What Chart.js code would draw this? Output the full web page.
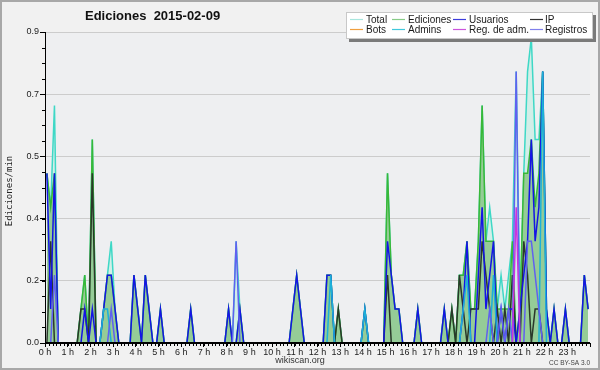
<!DOCTYPE html>
<html>
<head>
<meta charset="utf-8">
<script src="https://cdn.jsdelivr.net/npm/chart.js@4/dist/chart.umd.min.js"></script>
<style>
html,body{margin:0;padding:0;background:#f1f1f1;}
#wrap{width:600px;height:370px;position:relative;}
</style>
</head>
<body>
<div id="wrap"><canvas id="c" width="600" height="370"></canvas></div>
<script>
// ---- DATA (10-minute bins, 6 per hour, one row per hour) ----
const chartTitle = 'Ediciones  2015-02-09';
const yAxisTitle = 'Ediciones/min';
const seriesNames = ['Total','Ediciones','Usuarios','IP','Bots','Admins','Reg. de adm.','Registros'];
const xTickValues = [0,1,2,3,4,5,6,7,8,9,10,11,12,13,14,15,16,17,18,19,20,21,22,23,24];
const xTickLabels = ['0 h','1 h','2 h','3 h','4 h','5 h','6 h','7 h','8 h','9 h','10 h','11 h','12 h','13 h','14 h','15 h','16 h','17 h','18 h','19 h','20 h','21 h','22 h','23 h',''];
const yTickValues = [0, 11/60, 22/60, 33/60, 44/60, 55/60];
const yTickLabels = ['0.0','0.2','0.4','0.5','0.7','0.9'];

const total = [
0.5,0.4,0.7,0,0,0,
0,0,0,0.1,0.2,0,
0.6,0,0,0.1,0.2,0.3,
0.1,0,0,0,0,0.2,
0.1,0,0.2,0.1,0,0,
0.1,0,0,0,0,0,
0,0,0.1,0,0,0,
0,0,0,0,0,0,
0.1,0,0.3,0.1,0,0,
0,0,0,0,0,0,
0,0,0,0,0,0.1,
0.2,0.1,0,0,0,0,
0,0,0.2,0.2,0,0.1,
0,0,0,0,0,0,
0.1,0,0,0,0,0,
0.5,0.2,0.1,0.1,0,0,
0,0,0.1,0,0,0,
0,0,0,0.1,0,0.1,
0,0.2,0.2,0.3,0.1,0.1,
0.3,0.7,0.3,0.4,0.3,0.1,
0.2,0.1,0.2,0.3,0.8,0.1,
0.5,0.8,0.9,0.6,0.6,0.8,
0.1,0,0.1,0,0,0.1,
0,0,0,0,0.2,0.1];

const ediciones = [
0.5,0.4,0.5,0,0,0,
0,0,0,0.1,0.2,0,
0.6,0,0,0.1,0.2,0.2,
0.1,0,0,0,0,0.2,
0.1,0,0.2,0.1,0,0,
0.1,0,0,0,0,0,
0,0,0.1,0,0,0,
0,0,0,0,0,0,
0.1,0,0,0.1,0,0,
0,0,0,0,0,0,
0,0,0,0,0,0.1,
0.2,0.1,0,0,0,0,
0,0,0.2,0.2,0,0.1,
0,0,0,0,0,0,
0.1,0,0,0,0,0,
0.5,0.2,0.1,0.1,0,0,
0,0,0.1,0,0,0,
0,0,0,0.1,0,0.1,
0,0.2,0.2,0.3,0.1,0.1,
0.3,0.7,0.3,0.3,0.3,0.1,
0.1,0.1,0.1,0.3,0,0.1,
0.5,0.5,0.6,0.4,0.5,0.8,
0.1,0,0.1,0,0,0.1,
0,0,0,0,0.2,0.1];

const usuarios = [
0.5,0.1,0.5,0,0,0,
0,0,0,0,0.1,0,
0.1,0,0,0.1,0.2,0.2,
0.1,0,0,0,0,0.2,
0.1,0,0.2,0.1,0,0,
0.1,0,0,0,0,0,
0,0,0.1,0,0,0,
0,0,0,0,0,0,
0.1,0,0,0.1,0,0,
0,0,0,0,0,0,
0,0,0,0,0,0.1,
0.2,0.1,0,0,0,0,
0,0,0.2,0.2,0,0,
0,0,0,0,0,0,
0.1,0,0,0,0,0,
0.3,0.2,0.1,0.1,0,0,
0,0,0.1,0,0,0,
0,0,0,0.1,0,0,
0,0,0.1,0.3,0,0,
0.2,0.4,0.1,0.2,0.3,0,
0.1,0,0.1,0.1,0,0.1,
0.2,0.3,0.6,0.3,0.4,0.8,
0.1,0,0.1,0,0,0.1,
0,0,0,0,0.2,0.1];

const ip = [
0,0.3,0,0,0,0,
0,0,0,0.1,0.1,0,
0.5,0,0,0,0,0,
0,0,0,0,0,0,
0,0,0,0,0,0,
0,0,0,0,0,0,
0,0,0,0,0,0,
0,0,0,0,0,0,
0,0,0,0,0,0,
0,0,0,0,0,0,
0,0,0,0,0,0,
0,0,0,0,0,0,
0,0,0,0,0,0.1,
0,0,0,0,0,0,
0,0,0,0,0,0,
0.2,0,0,0,0,0,
0,0,0,0,0,0,
0,0,0,0,0,0.1,
0,0.2,0.1,0,0.1,0.1,
0.1,0.3,0.2,0.1,0,0.1,
0,0.1,0,0.2,0,0,
0.3,0.2,0,0.1,0.1,0,
0,0,0,0,0,0,
0,0,0,0,0,0];

const bots = [
0,0,0,0,0,0, 0,0,0,0,0,0, 0,0,0,0,0,0, 0,0,0,0,0,0,
0,0,0,0,0,0, 0,0,0,0,0,0, 0,0,0,0,0,0, 0,0,0,0,0,0,
0,0,0,0,0,0, 0,0,0,0,0,0, 0,0,0,0,0,0, 0,0,0,0,0,0,
0,0,0,0,0,0, 0,0,0,0,0,0, 0,0,0,0,0,0, 0,0,0,0,0,0,
0,0,0,0,0,0, 0,0,0,0,0,0, 0,0,0,0,0,0, 0,0,0,0,0,0,
0,0,0,0,0,0, 0,0,0,0,0,0, 0,0,0,0,0,0, 0,0,0,0,0,0];

const admins = [
0,0,0,0,0,0, 0,0,0,0,0,0, 0,0,0,0.1,0.1,0, 0,0,0,0,0,0,
0,0,0,0,0,0, 0,0,0,0,0,0, 0,0,0,0,0,0, 0,0,0,0,0,0,
0,0,0,0,0,0, 0,0,0,0,0,0, 0,0,0,0,0,0, 0,0,0,0,0,0,
0,0,0,0.2,0,0, 0,0,0,0,0,0, 0.1,0,0,0,0,0, 0,0,0,0,0,0,
0,0,0,0,0,0, 0,0,0,0,0,0, 0,0,0.1,0.2,0,0, 0,0,0,0,0.2,0,
0,0,0,0,0,0, 0,0,0,0,0,0.8, 0,0,0,0,0,0, 0,0,0,0,0,0];

const regAdm = [
0,0,0,0,0,0, 0,0,0,0,0,0, 0,0,0,0,0,0, 0,0,0,0,0,0,
0,0,0,0,0,0, 0,0,0,0,0,0, 0,0,0,0,0,0, 0,0,0,0,0,0,
0,0,0,0,0,0, 0,0,0,0,0,0, 0,0,0,0,0,0, 0,0,0,0,0,0,
0,0,0,0,0,0, 0,0,0,0,0,0, 0,0,0,0,0,0, 0,0,0,0,0,0,
0,0,0,0,0,0, 0,0,0,0,0,0, 0,0,0,0,0,0, 0,0,0,0,0,0,
0,0,0,0,0.4,0, 0,0,0,0,0,0, 0,0,0,0,0,0, 0,0,0,0,0,0];

const registros = [
0,0,0.2,0,0,0, 0,0,0,0,0,0, 0,0,0,0,0,0.1, 0,0,0,0,0,0,
0,0,0,0,0,0, 0,0,0,0,0,0, 0,0,0,0,0,0, 0,0,0,0,0,0,
0,0,0.3,0,0,0, 0,0,0,0,0,0, 0,0,0,0,0,0, 0,0,0,0,0,0,
0,0,0,0,0,0, 0,0,0,0,0,0, 0,0,0,0,0,0, 0,0,0,0,0,0,
0,0,0,0,0,0, 0,0,0,0,0,0, 0,0,0,0,0,0, 0,0,0,0.1,0,0,
0.1,0,0.1,0,0.8,0, 0,0.3,0.3,0.2,0.1,0, 0,0,0,0,0,0, 0,0,0,0,0,0];

// ---- build ----
const binsPerHour = 6;
const pts = arr => arr.map((v, i) => ({x: (i + 0.5) / binsPerHour, y: v}));

function ds(idx, values, color, legendColor, order, fillColor) {
  return {
    label: seriesNames[idx],
    data: pts(values),
    borderColor: color,
    legendColor: legendColor,
    backgroundColor: fillColor || color,
    fill: fillColor ? 'origin' : false,
    borderWidth: 1.5,
    pointRadius: 0,
    tension: 0,
    order: order
  };
}

const datasets = [
  ds(0, total, '#3ed8c6', '#a8e6de', 8, '#d2eee8'),
  ds(1, ediciones, '#38b838', '#88cc88', 7, '#95cc97'),
  ds(2, usuarios, '#1414e6', '#3c3cdc', 4),
  ds(3, ip, '#2a382a', '#333333', 5),
  ds(4, bots, '#f09a30', '#f0a040', 6),
  ds(5, admins, '#1cb0d8', '#40c8dc', 3),
  ds(6, regAdm, '#cc33dd', '#cc55dd', 1),
  ds(7, registros, '#6060f0', '#8080ec', 2)
];

const decor = {
  id: 'decor',
  beforeDraw(chart) {
    const ctx = chart.ctx, a = chart.chartArea;
    ctx.save();
    ctx.fillStyle = '#f1f1f1';
    ctx.fillRect(0, 0, 600, 370);
    ctx.strokeStyle = '#a8a8a8';
    ctx.lineWidth = 2;
    ctx.strokeRect(1, 1, 598, 368);
    ctx.fillStyle = '#eeeff1';
    ctx.fillRect(a.left, a.top, a.right - a.left, a.bottom - a.top);
    ctx.restore();
  },
  afterDraw(chart) {
    const ctx = chart.ctx, a = chart.chartArea;
    const xs = chart.scales.x, ys = chart.scales.y;
    ctx.save();
    // axis lines over the zero-valued series
    ctx.strokeStyle = '#000';
    ctx.lineWidth = 2;
    ctx.beginPath();
    ctx.moveTo(a.left, a.bottom);
    ctx.lineTo(a.right, a.bottom);
    ctx.stroke();
    ctx.lineWidth = 1;
    ctx.beginPath();
    ctx.moveTo(a.left + 0.5, a.top);
    ctx.lineTo(a.left + 0.5, a.bottom);
    ctx.stroke();
    // minor ticks
    ctx.beginPath();
    for (let k = 0; k <= 24 * binsPerHour; k++) {
      const px = Math.round(xs.getPixelForValue(k / binsPerHour)) + 0.5;
      ctx.moveTo(px, a.bottom);
      ctx.lineTo(px, a.bottom + 3);
    }
    const step = yTickValues[1] / 4;
    for (let j = 0; j <= 20; j++) {
      const py = Math.round(ys.getPixelForValue(j * step)) + 0.5;
      ctx.moveTo(a.left - 3, py);
      ctx.lineTo(a.left, py);
    }
    ctx.stroke();
    // title
    ctx.fillStyle = '#111';
    ctx.font = 'bold 13px "Liberation Sans"';
    ctx.textBaseline = 'middle';
    ctx.textAlign = 'left';
    ctx.fillText(chartTitle, 85, 16);
    // y title
    ctx.save();
    ctx.translate(10, 191);
    ctx.rotate(-Math.PI / 2);
    ctx.textAlign = 'center';
    ctx.font = '9px "DejaVu Sans Mono"';
    ctx.fillStyle = '#222';
    ctx.fillText(yAxisTitle, 0, 0);
    ctx.restore();
    // footer
    ctx.textAlign = 'center';
    ctx.font = '9px "Liberation Sans"';
    ctx.fillStyle = '#333';
    ctx.fillText('wikiscan.org', 300, 361);
    ctx.textAlign = 'right';
    ctx.font = '6.5px "Liberation Sans"';
    ctx.fillStyle = '#444';
    ctx.fillText('CC BY-SA 3.0', 590, 363);
    // legend
    ctx.fillStyle = '#7a7a7a';
    ctx.fillRect(349, 15, 247, 27);
    ctx.fillStyle = '#ffffff';
    ctx.fillRect(346, 12, 247, 27);
    ctx.strokeStyle = '#c8c8c8';
    ctx.lineWidth = 1;
    ctx.strokeRect(346.5, 12.5, 246, 26);
    const lineX = [350, 392, 453, 530];
    const textX = [366, 408, 469, 545];
    const rowY = [19.5, 29.5];
    ctx.font = '10px "Liberation Sans"';
    ctx.textAlign = 'left';
    chart.data.datasets.forEach((d, i) => {
      const col = i % 4, row = Math.floor(i / 4);
      ctx.strokeStyle = d.legendColor;
      ctx.lineWidth = 1.2;
      ctx.beginPath();
      ctx.moveTo(lineX[col], rowY[row]);
      ctx.lineTo(lineX[col] + 13, rowY[row]);
      ctx.stroke();
      ctx.fillStyle = '#1a1a1a';
      ctx.fillText(d.label, textX[col], rowY[row] + 0.5);
    });
    ctx.restore();
  }
};

new Chart(document.getElementById('c'), {
  type: 'line',
  data: {datasets},
  options: {
    responsive: false,
    animation: false,
    events: [],
    layout: {padding: {left: 0, right: 10, top: 32, bottom: 10}},
    plugins: {legend: {display: false}, tooltip: {enabled: false}, title: {display: false}},
    scales: {
      x: {
        type: 'linear', min: 0, max: 24,
        afterBuildTicks: s => { s.ticks = xTickValues.map(v => ({value: v})); },
        afterFit: s => { s.height = 17; },
        ticks: {
          autoSkip: false, maxRotation: 0, padding: 0,
          font: {family: 'Liberation Sans', size: 9}, color: '#222',
          callback: (v, i) => xTickLabels[i]
        },
        grid: {drawOnChartArea: false, drawTicks: true, tickLength: 4, tickColor: '#000'},
        border: {color: '#000', width: 1}
      },
      y: {
        type: 'linear', min: 0, max: yTickValues[yTickValues.length - 1],
        afterBuildTicks: s => { s.ticks = yTickValues.map(v => ({value: v})); },
        afterFit: s => { s.width = 45; },
        ticks: {
          padding: 1,
          font: {family: 'Liberation Sans', size: 9}, color: '#222',
          callback: (v, i) => yTickLabels[i]
        },
        grid: {color: '#cccccc', drawTicks: true, tickLength: 5, tickColor: '#000'},
        border: {color: '#000', width: 1}
      }
    }
  },
  plugins: [decor]
});
</script>
</body>
</html>
